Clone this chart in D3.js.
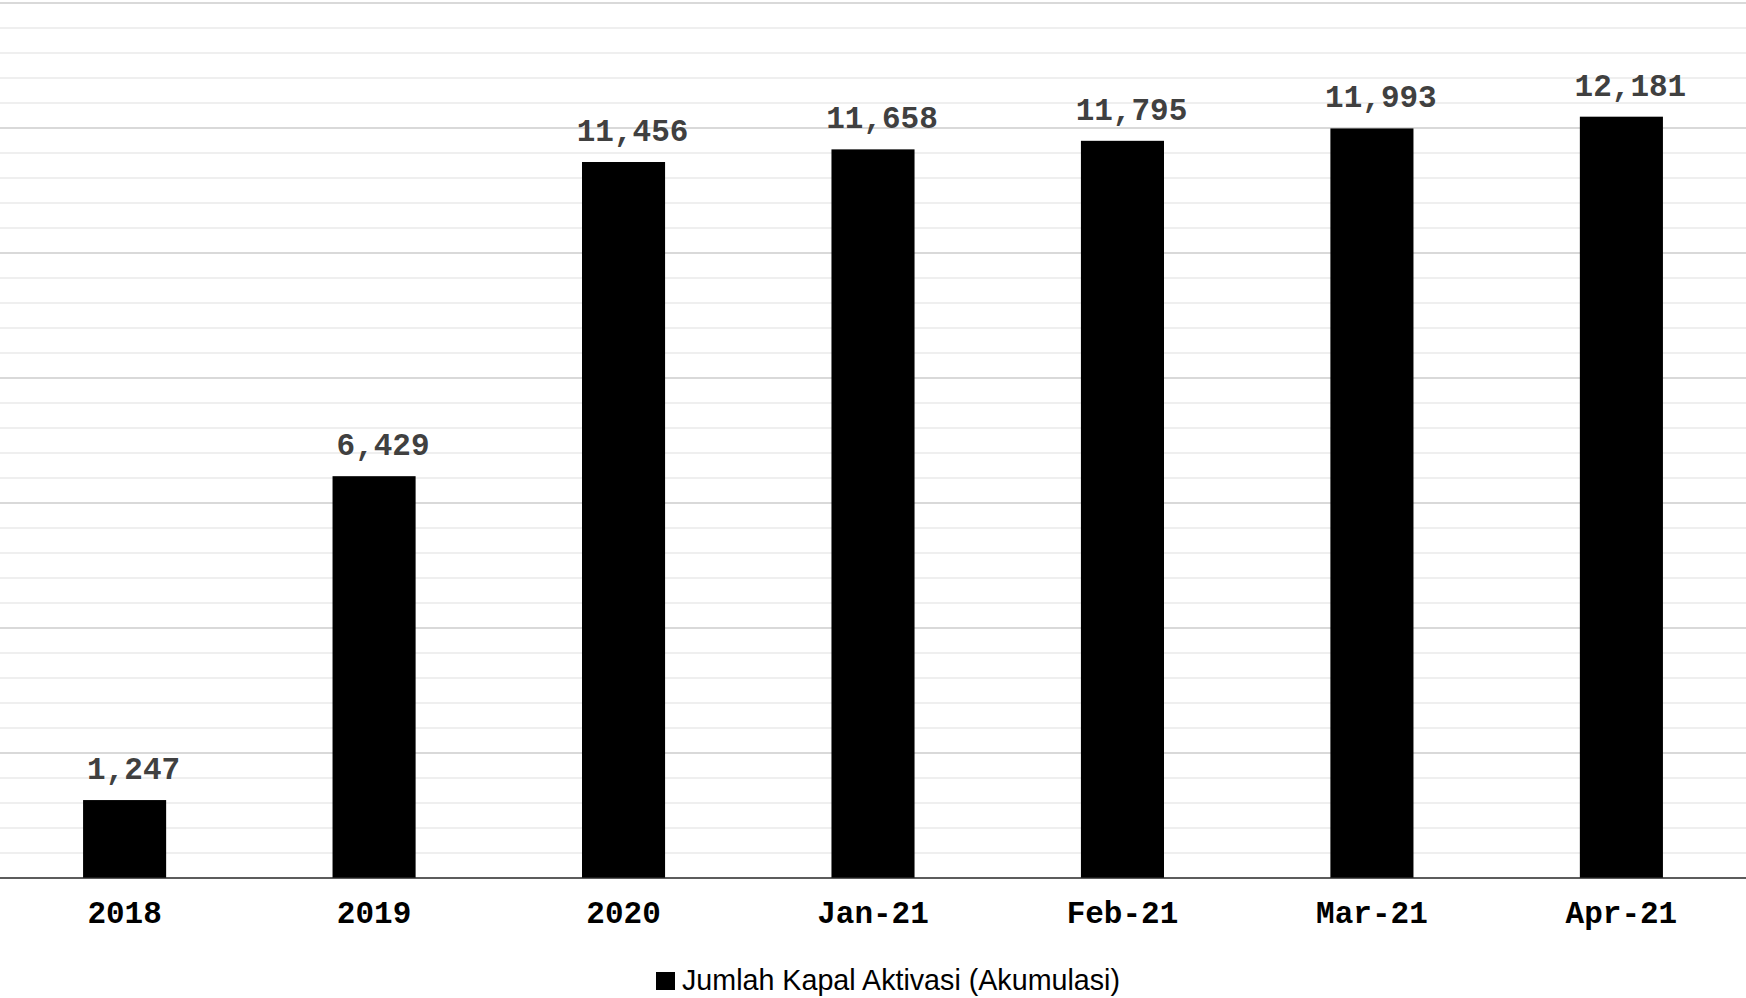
<!DOCTYPE html>
<html>
<head>
<meta charset="utf-8">
<script src="https://cdn.jsdelivr.net/npm/d3@7"></script>
<style>
  body { margin: 0; background: #fff; }
  svg { display: block; }
</style>
</head>
<body>
<svg width="1746" height="998"></svg>
<script>
const categories = ["2018", "2019", "2020", "Jan-21", "Feb-21", "Mar-21", "Apr-21"];
const values = [1247, 6429, 11456, 11658, 11795, 11993, 12181];
const seriesName = "Jumlah Kapal Aktivasi (Akumulasi)";
const yMax = 14000;
const majorStep = 2000;
const minorStep = 400;

const svg = d3.select("svg");
const width = +svg.attr("width");

const x = d3.scaleBand().domain(categories).range([0, width]).paddingInner(0.667).paddingOuter(0.333);
const y = d3.scaleLinear().domain([0, yMax]).range([878, 3]);

// minor gridlines
svg.append("g")
  .selectAll("line")
  .data(d3.range(minorStep, yMax + 1, minorStep).filter(v => v % majorStep !== 0))
  .enter().append("line")
  .attr("x1", 0).attr("x2", width)
  .attr("y1", d => y(d)).attr("y2", d => y(d))
  .attr("stroke", "#efefef")
  .attr("stroke-width", 2);

// major gridlines
svg.append("g")
  .selectAll("line")
  .data(d3.range(majorStep, yMax + 1, majorStep))
  .enter().append("line")
  .attr("x1", 0).attr("x2", width)
  .attr("y1", d => y(d)).attr("y2", d => y(d))
  .attr("stroke", "#d9d9d9")
  .attr("stroke-width", 2);

// bars
svg.append("g")
  .selectAll("rect")
  .data(values)
  .enter().append("rect")
  .attr("x", (d, i) => x(categories[i]))
  .attr("width", x.bandwidth())
  .attr("y", d => y(d))
  .attr("height", d => y(0) - y(d))
  .attr("fill", "#000");

// value labels (sit a bit right of bar centre, like the original)
svg.append("g")
  .selectAll("text")
  .data(values)
  .enter().append("text")
  .attr("x", (d, i) => x(categories[i]) + x.bandwidth() / 2 + 9)
  .attr("y", d => y(d) - 21)
  .attr("text-anchor", "middle")
  .attr("font-family", "'Liberation Mono', 'Courier New', monospace")
  .attr("font-weight", "bold")
  .attr("font-size", 31)
  .attr("fill", "#404040")
  .text(d => d3.format(",")(d));

// baseline
svg.append("line")
  .attr("x1", 0).attr("x2", width)
  .attr("y1", y(0)).attr("y2", y(0))
  .attr("stroke", "#262626")
  .attr("stroke-width", 1.5);

// x axis labels
const xAxis = svg.append("g")
  .attr("transform", `translate(0,${y(0)})`)
  .call(d3.axisBottom(x).tickSize(0).tickPadding(0));
xAxis.select(".domain").remove();
xAxis.selectAll("text")
  .attr("dy", null)
  .attr("y", 45)
  .attr("font-family", "'Liberation Mono', 'Courier New', monospace")
  .attr("font-weight", "bold")
  .attr("font-size", 31)
  .attr("fill", "#000");

// legend
const legend = svg.append("g").attr("transform", "translate(656,990)");
legend.append("rect")
  .attr("x", 0).attr("y", -18)
  .attr("width", 19).attr("height", 18)
  .attr("fill", "#000");
legend.append("text")
  .attr("x", 26).attr("y", 0)
  .attr("font-family", "'Liberation Sans', Arial, sans-serif")
  .attr("font-size", 30)
  .attr("fill", "#000")
  .attr("textLength", 438)
  .attr("lengthAdjust", "spacingAndGlyphs")
  .text(seriesName);
</script>
</body>
</html>
